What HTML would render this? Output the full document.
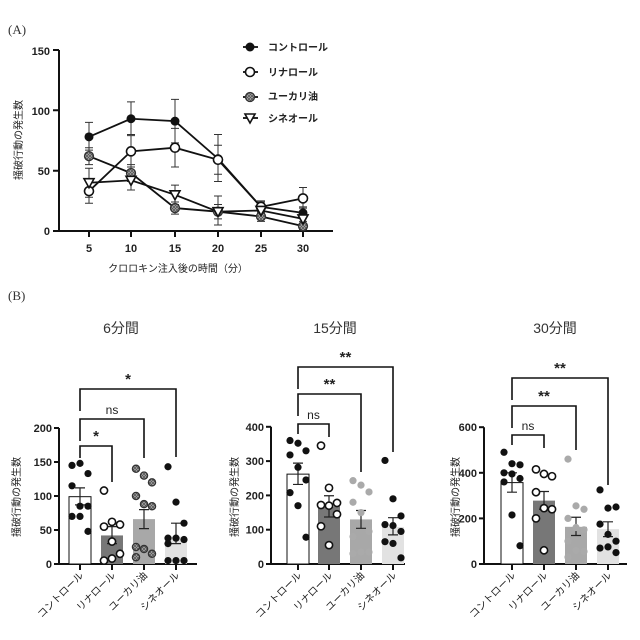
<!DOCTYPE html>
<html><head><meta charset="utf-8">
<style>
html,body{margin:0;padding:0;background:#fff;}
svg{display:block;font-family:"Liberation Sans","Noto Sans CJK JP",sans-serif;}
.t{font-size:11px;font-weight:bold;fill:#222;}
.j{font-size:10px;fill:#222;}
</style></head><body>
<svg id="s" width="640" height="640" viewBox="0 0 640 640" xmlns="http://www.w3.org/2000/svg">
<text x="8" y="34" font-family="Liberation Serif,serif" font-size="13" fill="#333">(A)</text>
<text x="8" y="300" font-family="Liberation Serif,serif" font-size="13" fill="#333">(B)</text>
<g stroke="#111" stroke-width="2" fill="none">
<path d="M59,50 V231 H333"/>
<path d="M53,50H59M53,110.3H59M53,170.7H59M53,231H59"/>
<path d="M89,231v6M131,231v6M175,231v6M218,231v6M261,231v6M303,231v6"/>
</g>
<g class="t" text-anchor="end"><text x="50" y="55">150</text><text x="50" y="115">100</text><text x="50" y="175">50</text><text x="50" y="235">0</text></g>
<g class="t" text-anchor="middle"><text x="89" y="252">5</text><text x="131" y="252">10</text><text x="175" y="252">15</text><text x="218" y="252">20</text><text x="261" y="252">25</text><text x="303" y="252">30</text></g>
<text class="j" x="178" y="272" text-anchor="middle">クロロキン注入後の時間（分）</text>
<text class="j" transform="translate(22,140) rotate(-90)" text-anchor="middle">掻破行動の発生数</text>
<g class="j" font-weight="bold"><text x="268" y="51">コントロール</text><text x="268" y="76">リナロール</text><text x="268" y="100">ユーカリ油</text><text x="268" y="122">シネオール</text></g>
<g font-size="14" fill="#333" text-anchor="middle"><text x="121" y="333">6分間</text><text x="335" y="333">15分間</text><text x="555" y="333">30分間</text></g>
<g class="j" text-anchor="middle">
<text transform="translate(20,497) rotate(-90)">掻破行動の発生数</text>
<text transform="translate(238,497) rotate(-90)">掻破行動の発生数</text>
<text transform="translate(459,497) rotate(-90)">掻破行動の発生数</text>
</g>
<g id="dyn"></g>
</svg>
<script>
var NS="http://www.w3.org/2000/svg",g=document.getElementById('dyn');
function el(t,a,txt){var e=document.createElementNS(NS,t);for(var k in a)e.setAttribute(k,a[k]);if(txt)e.textContent=txt;g.appendChild(e);return e;}
var defs=document.createElementNS(NS,'defs');defs.innerHTML='<pattern id="hp" width="3" height="3" patternUnits="userSpaceOnUse"><rect width="3" height="3" fill="#bbb"/><path d="M0,0L3,3M3,0L0,3" stroke="#555" stroke-width="0.8"/></pattern>';document.getElementById('s').appendChild(defs);
function mk(type,x,y,r){r=r||4.5;
 if(type==0)el('circle',{cx:x,cy:y,r:r,fill:'#111'});
 else if(type==1)el('circle',{cx:x,cy:y,r:r,fill:'#fff',stroke:'#111','stroke-width':1.6});
 else if(type==2)el('circle',{cx:x,cy:y,r:r,fill:'url(#hp)',stroke:'#333','stroke-width':1.3});
 else if(type==3)el('path',{d:'M'+(x-5)+','+(y-4)+'H'+(x+5)+'L'+x+','+(y+5)+'Z',fill:'#fff',stroke:'#111','stroke-width':1.6});
 else el('circle',{cx:x,cy:y,r:r,fill:type,stroke:'none'});
}
var xs=[89,131,175,218,261,303],Y=function(v){return 231-v*1.207;};
var data=[[78,93,91,60,20,15],[33,66,69,59,20,27],[62,48,19,16,12,4],[40,42,30,16,17,10]];
var err=[[[67,90],[80,107],[73,109],[41,80],[15,25],[12,20]],[[23,43],[53,79],[53,85],[47,71],[16,24],[19,36]],[[55,69],[41,55],[14,24],[5,29],[8,16],[1,8]],[[28,52],[34,50],[22,38],[10,22],[12,22],[5,15]]];
for(var s=0;s<4;s++){for(var i=0;i<6;i++){var a=Y(err[s][i][0]),b=Y(err[s][i][1]),x=xs[i];el('path',{d:'M'+x+','+a+'V'+b+'M'+(x-4)+','+a+'h8M'+(x-4)+','+b+'h8',stroke:'#333','stroke-width':1,fill:'none'});}
 el('polyline',{points:xs.map(function(x,i){return x+','+Y(data[s][i]);}).join(' '),fill:'none',stroke:'#111','stroke-width':1.8});}
for(s=0;s<4;s++)for(i=0;i<6;i++)mk(s,xs[i],Y(data[s][i]));
var ly=[47,72,97,118];for(s=0;s<4;s++){el('path',{d:'M243,'+ly[s]+'H258',stroke:'#111','stroke-width':1.8});mk(s,250,ly[s]);}
function panel(o){
 var y0=564,sc=o.sc,ax=o.ax;
 el('path',{d:'M'+ax+','+(y0-o.max*sc)+'V'+y0+'H'+o.end,stroke:'#111','stroke-width':2,fill:'none'});
 o.ticks.forEach(function(t){var y=y0-t*sc;el('path',{d:'M'+(ax-5)+','+y+'H'+ax,stroke:'#111','stroke-width':2});el('text',{x:ax-7,y:y+4,'text-anchor':'end','class':'t','font-size':10},String(t));});
 var fills=['#fff','#777','#a8a8a8','#e2e2e2'],names=['コントロール','リナロール','ユーカリ油','シネオール'];
 o.cx.forEach(function(c,k){
  el('path',{d:'M'+c+','+y0+'v6',stroke:'#111','stroke-width':2});
  el('rect',{x:c-11,y:y0-o.bar[k]*sc,width:22,height:o.bar[k]*sc,fill:fills[k],stroke:k==0?'#111':'none','stroke-width':1});
  var a=y0-o.er[k][0]*sc,b=y0-o.er[k][1]*sc;
  el('path',{d:'M'+c+','+a+'V'+b+'M'+(c-5)+','+a+'h10M'+(c-5)+','+b+'h10',stroke:'#222','stroke-width':1.2,fill:'none'});
  o.pts[k].forEach(function(v,j){var dx=((j%3)-1)*8;var t=k==0?0:k==1?1:k==2?(o.euc||2):0;mk(t,c+dx,y0-v*sc,3.6);});
  el('text',{transform:'translate('+(c+4)+','+(y0+12)+') rotate(-45)','text-anchor':'end','class':'j','font-size':12},names[k]);
 });
 o.br.forEach(function(b,k){var x2=o.cx[k+1];el('path',{d:'M'+o.cx[0]+','+(b[0]+b[2])+'V'+b[0]+'H'+x2+'V'+b[1],stroke:'#111','stroke-width':1.6,fill:'none'});
  el('text',{x:(o.cx[0]+x2)/2,y:b[0]-5,'text-anchor':'middle','font-size':b[3]=='ns'?12:15,'font-weight':b[3]=='ns'?'normal':'bold',fill:'#222'},b[3]);});
}
panel({ax:59,end:197,sc:0.68,max:200,ticks:[0,50,100,150,200],cx:[80,112,144,176],bar:[99,42,66,40],
 er:[[87,112],[30,55],[52,80],[30,60]],
 pts:[[145,148,133,115,85,85,70,70,48],[108,62,58,55,33,15,5,8],[140,130,120,100,88,85,25,22,15,10],[143,91,60,38,38,36,30,5,5,5]],
 br:[[446,482,12,'*'],[419,458,22,'ns'],[389,457,22,'*']]});
panel({ax:271,end:405,sc:0.343,max:400,ticks:[0,100,200,300,400],cx:[298,329,361,393],bar:[262,168,130,108],
 er:[[232,294],[137,199],[104,156],[85,135]],euc:'#aaa',
 pts:[[360,352,330,318,282,245,208,170,78],[345,222,178,172,170,145,110,55],[243,230,210,180,150,95,80,35,35,30],[302,190,140,115,112,95,65,60,18]],
 br:[[424,437,10,'ns'],[394,472,22,'**'],[367,452,22,'**']]});
panel({ax:484,end:627,sc:0.228,max:600,ticks:[0,200,400,600],cx:[512,544,576,608],bar:[357,278,163,153],
 er:[[315,400],[240,318],[125,205],[120,185]],euc:'#aaa',
 pts:[[490,440,435,400,395,375,360,215,80],[415,395,385,315,245,240,200,60],[460,255,240,200,160,150,100,60,55,30],[325,245,250,175,130,100,70,75,50]],
 br:[[435,448,10,'ns'],[406,450,22,'**'],[378,485,22,'**']]});
</script>
</body></html>
